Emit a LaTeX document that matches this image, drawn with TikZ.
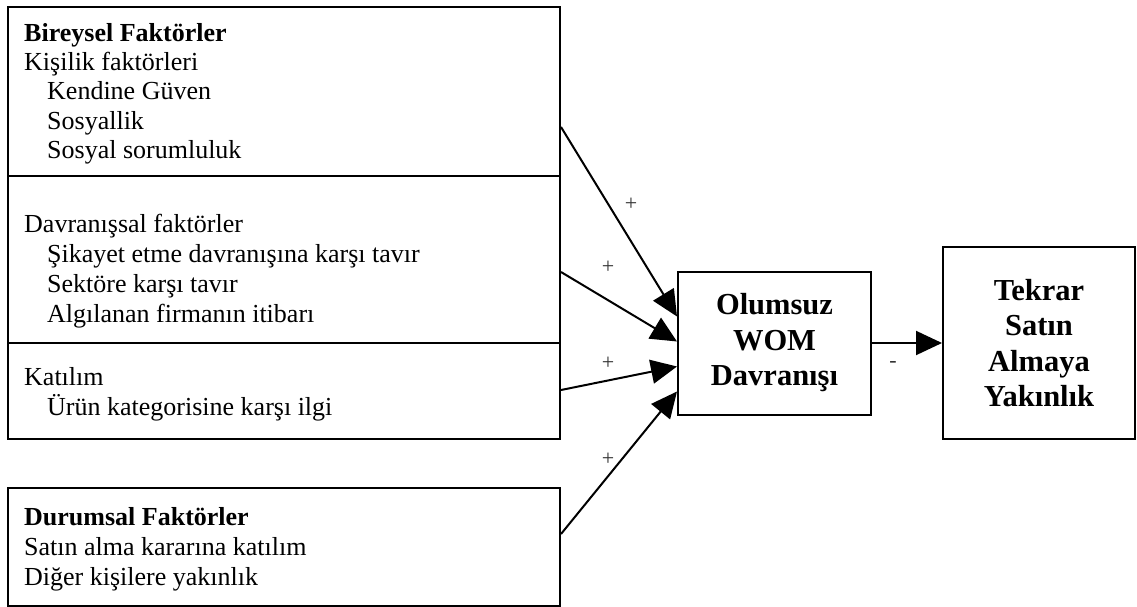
\documentclass[tikz,border=0pt]{standalone}
\usepackage{fontspec}
\setmainfont{Liberation Serif}
\usetikzlibrary{arrows.meta,calc}
\begin{document}
\begin{tikzpicture}[x=1pt,y=-1pt,
  frame/.style={draw, line width=2pt, inner sep=0pt, anchor=north west},
  txt/.style={anchor=base west, inner sep=0pt, font=\fontsize{26}{30}\selectfont},
  txtbold/.style={txt, font=\fontsize{26}{30}\selectfont\bfseries},
  head/.style={draw, line width=2pt, inner sep=0pt, align=center,
    font=\fontsize{30.5}{35.5}\selectfont\bfseries},
  sign/.style={inner sep=0pt, font=\fontsize{22}{26}\selectfont, text=black!80},
  link/.style={line width=2pt, -{Triangle[length=26pt,width=24pt]}}
]
\useasboundingbox (0,0) rectangle (1137,607);

% individual factors: three stacked panels
\node[frame, minimum width=552pt, minimum height=169pt] (pers) at (7,6) {};
\node[frame, minimum width=552pt, minimum height=167pt] (beh) at (7,175) {};
\node[frame, minimum width=552pt, minimum height=96pt] (inv) at (7,342) {};
% situational factors
\node[frame, minimum width=552pt, minimum height=118pt] (sit) at (7,487) {};

\node[txtbold] (p1) at (24,42) {Bireysel Faktörler};
\node[txt] (p2) at (24,71) {Kişilik faktörleri};
\node[txt] (p3) at (47,100) {Kendine Güven};
\node[txt] (p4) at (47,129) {Sosyallik};
\node[txt] (p5) at (47,158) {Sosyal sorumluluk};

\node[txt] (b1) at (24,232) {Davranışsal faktörler};
\node[txt] (b2) at (47,262) {Şikayet etme davranışına karşı tavır};
\node[txt] (b3) at (47,292) {Sektöre karşı tavır};
\node[txt] (b4) at (47,322) {Algılanan firmanın itibarı};

\node[txt] (i1) at (24,385) {Katılım};
\node[txt] (i2) at (47,415) {Ürün kategorisine karşı ilgi};

\node[txtbold] (s1) at (24,525) {Durumsal Faktörler};
\node[txt] (s2) at (24,555) {Satın alma kararına katılım};
\node[txt] (s3) at (24,585) {Diğer kişilere yakınlık};

% outcome boxes
\node[head, minimum width=193pt, minimum height=143pt] (wom) at (774.5,343)
  {Olumsuz\\WOM\\Davranışı};
\node[head, minimum width=192pt, minimum height=192pt] (rep) at (1039,343)
  {Tekrar\\Satın\\Almaya\\Yakınlık};

% influence paths
\draw[link] ($(pers.north east)+(0,121)$) -- ($(wom.north west)+(0,46)$);
\draw[link] ($(beh.north east)+(0,97)$) -- ($(wom.north west)+(0,71)$);
\draw[link] ($(inv.north east)+(0,48)$) -- ($(wom.north west)+(0,96)$);
\draw[link] ($(sit.north east)+(0,47)$) -- ($(wom.north west)+(0,121)$);
\draw[link] (wom.east) -- (rep.west);

\node[sign] (g1) at (631,204) {+};
\node[sign] (g2) at (608,267) {+};
\node[sign] (g3) at (608,363) {+};
\node[sign] (g4) at (608,459) {+};
\node[sign] (g5) at (893,364) {-};
\end{tikzpicture}
\end{document}
